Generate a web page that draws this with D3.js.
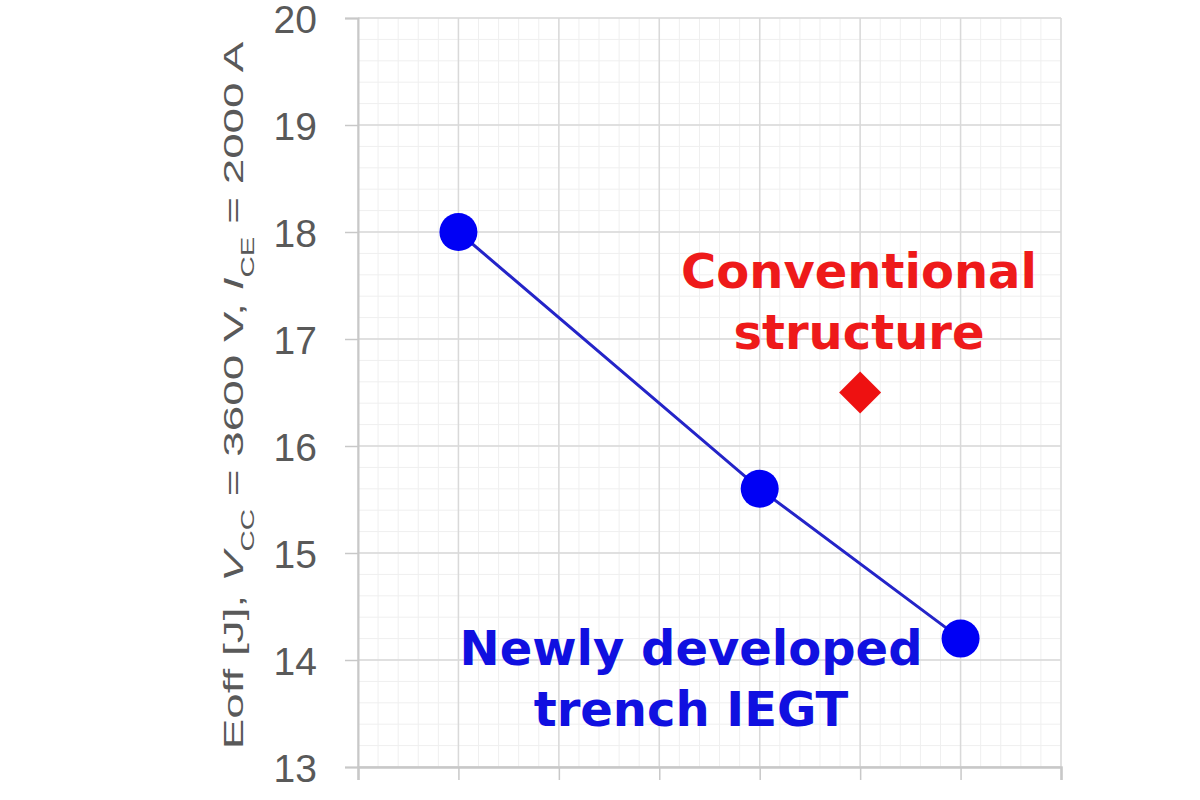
<!DOCTYPE html>
<html>
<head>
<meta charset="utf-8">
<script src="https://cdn.jsdelivr.net/npm/d3@7"></script>
<style>
  body { margin: 0; background: #fff; }
  svg { display: block; }
</style>
</head>
<body>
<svg width="1200" height="800"></svg>
<script>
// data
const xTicks = [0, 1, 2, 3, 4, 5, 6, 7];
const yTicks = [13, 14, 15, 16, 17, 18, 19, 20];
const newX = [1, 4, 6];
const newY = [18.0, 15.6, 14.2];
const convX = [5];
const convY = [16.5];

const svg = d3.select('svg');
const plotL = 358, plotR = 1061, plotT = 18, plotB = 767;

const x = d3.scaleLinear().domain([0, 7]).range([plotL, plotR]);
const y = d3.scaleLinear().domain([13, 20]).range([plotB, plotT]);

// minor grid (5 per major)
const minorX = d3.range(0, 7.001, 0.2);
const minorY = d3.range(13, 20.001, 0.2);
const grid = svg.append('g');
grid.selectAll('.mx').data(minorX).join('line')
    .attr('x1', d => x(d)).attr('x2', d => x(d))
    .attr('y1', plotT).attr('y2', plotB)
    .attr('stroke', '#efefef').attr('stroke-width', 1);
grid.selectAll('.my').data(minorY).join('line')
    .attr('x1', plotL).attr('x2', plotR)
    .attr('y1', d => y(d)).attr('y2', d => y(d))
    .attr('stroke', '#efefef').attr('stroke-width', 1);
// major grid
grid.selectAll('.gx').data(xTicks).join('line')
    .attr('x1', d => x(d)).attr('x2', d => x(d))
    .attr('y1', plotT).attr('y2', plotB)
    .attr('stroke', '#d9d9d9').attr('stroke-width', 1.5);
grid.selectAll('.gy').data(yTicks).join('line')
    .attr('x1', plotL).attr('x2', plotR)
    .attr('y1', d => y(d)).attr('y2', d => y(d))
    .attr('stroke', '#d9d9d9').attr('stroke-width', 1.5);

// axes
const yAxis = svg.append('g')
    .attr('transform', `translate(${plotL},0)`)
    .call(d3.axisLeft(y).tickValues(yTicks).tickSize(13).tickPadding(28).tickFormat(d3.format('d')));
yAxis.select('.domain').attr('stroke', '#c8c8c8').attr('stroke-width', 2);
yAxis.selectAll('.tick line').attr('stroke', '#c8c8c8').attr('stroke-width', 1.5);
yAxis.selectAll('.tick text')
    .attr('fill', '#595959')
    .attr('dy', '0.36em')
    .style('font-family', '"Liberation Sans", Arial, sans-serif')
    .style('font-size', '39px');

const xAxis = svg.append('g')
    .attr('transform', `translate(0,${plotB})`)
    .call(d3.axisBottom(x).tickValues(xTicks).tickSize(13).tickFormat(''));
xAxis.select('.domain').attr('stroke', '#c8c8c8').attr('stroke-width', 2.5);
xAxis.selectAll('.tick line').attr('stroke', '#c8c8c8').attr('stroke-width', 1.5);

// y axis title, stretched along its length like the reference
const titleG = svg.append('g');
const title = titleG.append('text')
    .attr('text-anchor', 'middle')
    .attr('fill', '#595959')
    .style('font-family', '"Liberation Sans", Arial, sans-serif')
    .style('font-size', '28px');
title.append('tspan').text('Eoff [J], ');
title.append('tspan').text('V').style('font-style', 'italic');
title.append('tspan').text('CC').attr('dy', 11).style('font-size', '18px');
title.append('tspan').text(' = 3600 V, ').attr('dy', -11);
title.append('tspan').text('I').style('font-style', 'italic');
title.append('tspan').text('CE').attr('dy', 11).style('font-size', '18px');
title.append('tspan').text(' = 2000 A').attr('dy', -11);
const natural = title.node().getComputedTextLength();
const stretch = 708 / natural;
titleG.attr('transform', `translate(243,${(plotT + plotB) / 2 + 3}) rotate(-90) scale(${stretch},1)`);

// series
const newPts = newX.map((d, i) => [d, newY[i]]);
svg.append('path')
    .datum(newPts)
    .attr('fill', 'none')
    .attr('stroke', '#2424c8')
    .attr('stroke-width', 3)
    .attr('d', d3.line().x(d => x(d[0])).y(d => y(d[1])));
svg.selectAll('.pt').data(newPts).join('circle')
    .attr('cx', d => x(d[0])).attr('cy', d => y(d[1]))
    .attr('r', 19)
    .attr('fill', '#0000f5');

const convPts = convX.map((d, i) => [d, convY[i]]);
svg.selectAll('.dm').data(convPts).join('path')
    .attr('transform', d => `translate(${x(d[0])},${y(d[1])})`)
    .attr('d', 'M0,-21L21,0L0,21L-21,0Z')
    .attr('fill', '#ee1111');

// labels
const lab = (lines, cx, cy, color) => {
  svg.append('g').selectAll('text').data(lines).join('text')
      .attr('x', cx).attr('y', (d, i) => cy + i * 61)
      .attr('text-anchor', 'middle')
      .attr('fill', color)
      .style('font-family', '"DejaVu Sans", Verdana, sans-serif')
      .style('font-weight', 'bold')
      .style('font-size', '48px')
      .text(d => d);
};
lab(['Conventional', 'structure'], 859, 288, '#ee1a1a');
lab(['Newly developed', 'trench IEGT'], 691, 665, '#1010e0');
</script>
</body>
</html>
